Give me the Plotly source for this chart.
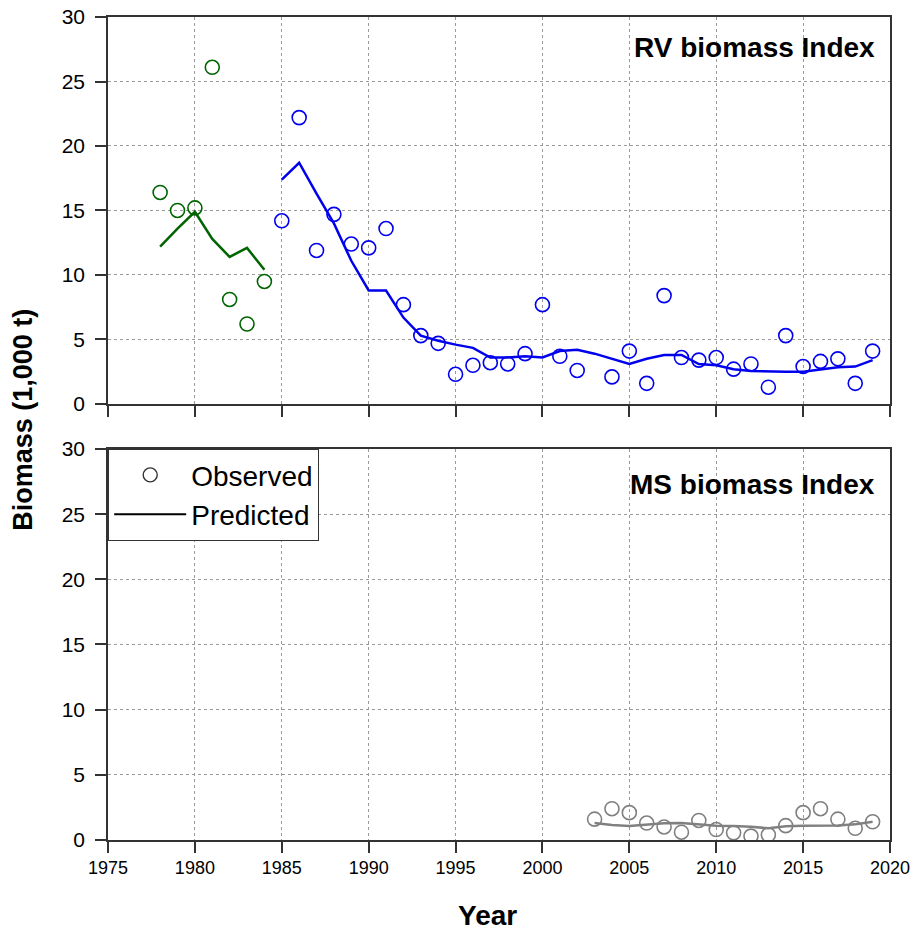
import plotly.graph_objects as go
from plotly.subplots import make_subplots

# RV survey, early series (green) and later series (blue)
rv_early_years = list(range(1978, 1985))
rv_early_obs = [16.4, 15.0, 15.2, 26.1, 8.1, 6.2, 9.5]
rv_early_pred = [12.2, 13.6, 14.9, 12.8, 11.4, 12.1, 10.4]

rv_years = list(range(1985, 2020))
rv_obs = [14.2, 22.2, 11.9, 14.7, 12.4, 12.1, 13.6, 7.7, 5.3, 4.7,
          2.3, 3.0, 3.2, 3.1, 3.9, 7.7, 3.7, 2.6, None, 2.1,
          4.1, 1.6, 8.4, 3.6, 3.4, 3.6, 2.7, 3.1, 1.3, 5.3,
          2.9, 3.3, 3.5, 1.6, 4.1]
rv_pred = [17.4, 18.7, 16.3, 14.0, 11.1, 8.8, 8.8, 6.7, 5.3, 4.9,
           4.6, 4.35, 3.6, 3.6, 3.7, 3.6, 4.1, 4.2, 3.9, 3.5,
           3.1, 3.5, 3.8, 3.8, 3.1, 3.0, 2.7, 2.55, 2.5, 2.5,
           2.5, 2.7, 2.85, 2.9, 3.4]

# MS survey
ms_years = list(range(2003, 2020))
ms_obs = [1.6, 2.4, 2.1, 1.3, 1.0, 0.6, 1.5, 0.8, 0.55, 0.3,
          0.4, 1.1, 2.1, 2.4, 1.6, 0.9, 1.4]
ms_pred = [1.3, 1.15, 1.07, 1.2, 1.28, 1.3, 1.2, 1.1, 1.07, 1.02,
           0.9, 1.05, 1.1, 1.12, 1.12, 1.2, 1.4]

GREEN = "#006400"
BLUE = "#0000EE"
GREY = "#808080"
FONT = "Liberation Sans, Arial"

fig = make_subplots(rows=2, cols=1)

def add_series(row, x, obs, pred, color):
    fig.add_trace(go.Scatter(x=x, y=pred, mode="lines", line=dict(color=color, width=2.5),
                             showlegend=False), row=row, col=1)
    fig.add_trace(go.Scatter(x=x, y=obs, mode="markers",
                             marker=dict(symbol="circle-open", size=14, color=color, line=dict(width=1.6)),
                             showlegend=False), row=row, col=1)

add_series(1, rv_early_years, rv_early_obs, rv_early_pred, GREEN)
add_series(1, rv_years, rv_obs, rv_pred, BLUE)
add_series(2, ms_years, ms_obs, ms_pred, GREY)

# legend entries
fig.add_trace(go.Scatter(x=[None], y=[None], mode="markers", name="Observed",
                         marker=dict(symbol="circle-open", size=14, color="#333", line=dict(width=1.4))),
              row=2, col=1)
fig.add_trace(go.Scatter(x=[None], y=[None], mode="lines", name="Predicted",
                         line=dict(color="black", width=2)), row=2, col=1)

axis_common = dict(showline=True, mirror=True, linecolor="#333", linewidth=1.5,
                   ticks="outside", ticklen=11, tickwidth=1.5, tickcolor="#333",
                   showgrid=True, gridcolor="#9a9a9a", griddash="dot", gridwidth=1,
                   zeroline=False, automargin=False, ticklabeloverflow="allow")

for r in (1, 2):
    fig.update_xaxes(range=[1975, 2020], tick0=1975, dtick=5,
                     tickfont=dict(family=FONT, size=18, color="black"),
                     **axis_common, row=r, col=1)
    fig.update_yaxes(range=[0, 30], tick0=0, dtick=5, ticklabelstandoff=6,
                     tickfont=dict(family=FONT, size=21, color="black"),
                     **axis_common, row=r, col=1)
fig.update_xaxes(showticklabels=False, row=1, col=1)
fig.update_yaxes(domain=[0.5298, 1.0], row=1, col=1)
fig.update_yaxes(domain=[0.0, 0.4751], row=2, col=1)

title_font = dict(family=FONT, size=28, color="black")
fig.add_annotation(text="<b>RV biomass Index</b>", xref="x domain", yref="y domain",
                   x=0.983, y=0.92, xanchor="right", yanchor="middle", showarrow=False, font=title_font)
fig.add_annotation(text="<b>MS biomass Index</b>", xref="x2 domain", yref="y2 domain",
                   x=0.983, y=0.91, xanchor="right", yanchor="middle", showarrow=False, font=title_font)
fig.add_annotation(text="<b>Biomass (1,000 t)</b>", xref="paper", yref="paper",
                   x=-0.108, y=0.51, xanchor="center", yanchor="middle", textangle=-90,
                   showarrow=False, font=dict(family=FONT, size=27, color="black"))
fig.add_annotation(text="<b>Year</b>", xref="paper", yref="paper",
                   x=0.485, y=-0.092, xanchor="center", yanchor="middle",
                   showarrow=False, font=dict(family=FONT, size=28, color="black"))

# page body adds 8px offset, so the figure is sized to compensate
fig.update_layout(
    width=910, height=924,
    margin=dict(l=100, r=28, t=9, b=92),
    paper_bgcolor="white", plot_bgcolor="white",
    legend=dict(x=0, y=0.4751, xanchor="left", yanchor="top",
                bordercolor="#333", borderwidth=1.2, bgcolor="white",
                font=dict(family=FONT, size=28, color="black"),
                itemwidth=72, tracegroupgap=0),
)

fig.write_html("out.html")
